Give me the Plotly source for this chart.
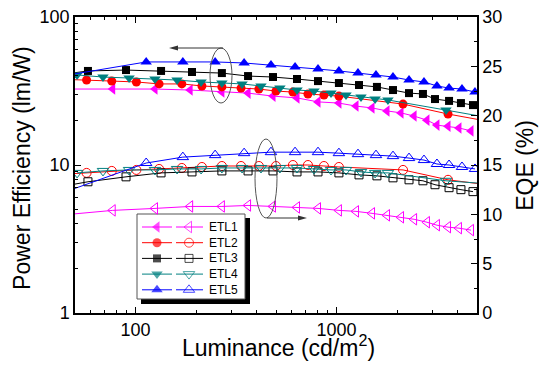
import plotly.graph_objects as go

# ---------------- data ----------------
series_names = ["ETL1", "ETL2", "ETL3", "ETL4", "ETL5"]
colors = ["#FF00FF", "#FF0000", "#000000", "#008080", "#0000FF"]
symbols = ["triangle-left", "circle", "square", "triangle-down", "triangle-up"]

lum1 = [47, 77, 125, 187, 269, 363, 483, 636, 809, 1028, 1250, 1502, 1783, 2094, 2432, 2818, 3160, 3588, 4066, 4667]
pe1 = [32.6, 32.6, 32.6, 32.1, 31.1, 30.6, 29.2, 28.4, 26.7, 26.2, 25.0, 24.3, 23.2, 22.5, 21.4, 20.1, 18.6, 18.3, 17.8, 17.0]
eqe1 = [10.0, 10.4, 10.6, 10.8, 10.8, 10.9, 10.8, 10.7, 10.6, 10.4, 10.3, 10.1, 9.9, 9.7, 9.5, 9.2, 8.9, 8.7, 8.6, 8.4]

lum2 = [47, 57.1, 76.2, 101, 131, 170, 214, 269, 335, 411, 500, 607, 721, 866, 1028, 2143, 3588, 5600]
pe2 = [37.8, 37.5, 36.9, 36.4, 35.3, 35.3, 34.2, 33.7, 33.1, 32.6, 31.6, 31.1, 30.2, 29.7, 29.2, 25.8, 22.1, 19.8]
eqe2 = [14.1, 14.2, 14.4, 14.5, 14.6, 14.7, 14.8, 14.9, 14.9, 14.9, 14.9, 15.0, 15.0, 14.9, 14.8, 14.5, 13.5, 13.0]

lum3 = [45, 58.0, 89.7, 134, 191, 269, 363, 483, 636, 809, 1028, 1294, 1589, 1910, 2295, 2692, 3090, 3630, 4160, 4775]
pe3 = [41.2, 43.2, 43.8, 43.2, 42.5, 41.8, 39.9, 39.3, 38.1, 36.9, 35.8, 34.7, 33.7, 32.1, 30.6, 30.2, 27.9, 27.1, 26.2, 25.4]
eqe3 = [12.9, 13.3, 13.8, 14.2, 14.3, 14.4, 14.4, 14.4, 14.3, 14.3, 14.2, 14.0, 13.9, 13.7, 13.5, 13.4, 13.0, 12.7, 12.5, 12.3]

lum4 = [51.2, 68.9, 92.9, 125, 161, 212, 269, 339, 421, 523, 636, 773, 939, 1115, 1324, 1556, 1803, 3506, 5600]
pe4 = [40.6, 39.3, 38.7, 38.1, 37.5, 36.4, 35.8, 35.3, 34.2, 33.1, 32.1, 31.6, 30.6, 29.7, 28.8, 27.9, 27.5, 23.5, 21.0]
eqe4 = [14.2, 14.4, 14.5, 14.5, 14.6, 14.6, 14.7, 14.7, 14.7, 14.7, 14.7, 14.6, 14.5, 14.5, 14.3, 14.2, 14.2, 13.4, 13.1]

lum5 = [45, 113, 172, 249, 347, 472, 622, 809, 1028, 1279, 1572, 1910, 2295, 2724, 3160, 3630, 4210, 4886]
pe5 = [40.3, 49.7, 49.7, 49.7, 48.9, 47.4, 45.9, 44.5, 43.2, 41.8, 40.6, 39.3, 37.5, 36.4, 34.2, 33.1, 32.6, 31.1]
eqe5 = [12.3, 15.2, 15.8, 16.0, 16.2, 16.3, 16.3, 16.3, 16.2, 16.1, 16.0, 15.9, 15.7, 15.5, 15.1, 15.0, 14.8, 14.6]

lums = [lum1, lum2, lum3, lum4, lum5]
pes = [pe1, pe2, pe3, pe4, pe5]
eqes = [eqe1, eqe2, eqe3, eqe4, eqe5]

x_ticks = [100, 1000]
x_minor = [60, 70, 80, 90, 200, 300, 400, 500, 600, 700, 800, 900, 2000, 3000, 4000]
y_ticks = [1, 10, 100]
y_minor = [2, 3, 4, 5, 6, 7, 8, 9, 20, 30, 40, 50, 60, 70, 80, 90]

FONT = "Liberation Sans, Arial, sans-serif"
fig = go.Figure()

sizes = [10, 9, 8, 10, 10]
for name, c, s, sz, L, pe, eq in zip(series_names, colors, symbols, sizes, lums, pes, eqes):
    fig.add_trace(go.Scatter(x=L, y=pe, mode="lines+markers", name=name,
                             line=dict(color=c, width=1),
                             marker=dict(symbol=s, size=sz, color=c, line=dict(width=0)),
                             showlegend=False, xaxis="x", yaxis="y"))
    fig.add_trace(go.Scatter(x=L, y=eq, mode="lines+markers", name=name,
                             line=dict(color=c, width=1),
                             marker=dict(symbol=s + "-open", size=sz, color=c, line=dict(width=1)),
                             showlegend=False, xaxis="x", yaxis="y2"))

# ---- custom legend drawn on a helper (pixel-like) axis pair ----
leg_rows = [227, 242.7, 258.4, 274.1, 289.8]
for i, (name, c, s, sz) in enumerate(zip(series_names, colors, symbols, sizes)):
    yy = leg_rows[i]
    fig.add_trace(go.Scatter(x=[142, 157, 172], y=[yy, yy, yy], mode="lines+markers",
                             line=dict(color=c, width=1),
                             marker=dict(symbol=s, size=[0, sz, 0], color=c, line=dict(width=0)),
                             showlegend=False, xaxis="x3", yaxis="y3", hoverinfo="skip"))
    fig.add_trace(go.Scatter(x=[176, 189, 203], y=[yy, yy, yy], mode="lines+markers",
                             line=dict(color=c, width=1),
                             marker=dict(symbol=s + "-open", size=[0, sz, 0], color=c, line=dict(width=1)),
                             showlegend=False, xaxis="x3", yaxis="y3", hoverinfo="skip"))
    fig.add_annotation(x=207, y=yy, xref="x3", yref="y3", text=name, showarrow=False,
                       xanchor="left", yanchor="middle", font=dict(size=12, color="black", family=FONT))

shapes = [
    dict(type="rect", x0=141, x1=250, y0=218, y1=304, xref="x3", yref="y3",
         fillcolor="black", line=dict(width=0), layer="below"),
    dict(type="rect", x0=137, x1=245, y0=214, y1=299, xref="x3", yref="y3",
         fillcolor="white", line=dict(color="#555555", width=1), layer="below"),
    dict(type="circle", x0=210, x1=232, y0=48, y1=103, xref="x3", yref="y3",
         line=dict(color="#555555", width=1)),
    dict(type="circle", x0=255, x1=277, y0=139, y1=218, xref="x3", yref="y3",
         line=dict(color="#555555", width=1)),
    # arrow shafts
    dict(type="line", x0=176, x1=223, y0=48, y1=48, xref="x3", yref="y3",
         line=dict(color="#333333", width=1)),
    dict(type="line", x0=267, x1=300, y0=218, y1=218, xref="x3", yref="y3",
         line=dict(color="#333333", width=1)),
    # arrow heads
    dict(type="path", path="M 169 48 L 178 45.5 L 178 50.5 Z", xref="x3", yref="y3",
         fillcolor="#333333", line=dict(width=0)),
    dict(type="path", path="M 307 218 L 298 215.5 L 298 220.5 Z", xref="x3", yref="y3",
         fillcolor="#333333", line=dict(width=0)),
]
fig.update_layout(shapes=shapes)

# axis titles as annotations for precise placement
title_font = dict(size=23, color="black", family=FONT)
fig.add_annotation(x=0.507, y=-0.113, xref="paper", yref="paper", showarrow=False,
                   text="Luminance (cd/m<sup>2</sup>)", font=title_font,
                   xanchor="center", yanchor="middle")
fig.add_annotation(x=-0.132, y=0.49, xref="paper", yref="paper", showarrow=False,
                   text="Power Efficiency (lm/W)", font=title_font, textangle=-90,
                   xanchor="center", yanchor="middle")
fig.add_annotation(x=1.119, y=0.50, xref="paper", yref="paper", showarrow=False,
                   text="EQE (%)", font=title_font, textangle=-90,
                   xanchor="center", yanchor="middle")

axis_common = dict(showline=True, linecolor="black", linewidth=1.5, ticks="inside",
                   tickcolor="black", tickwidth=1, showgrid=False, zeroline=False,
                   automargin=False,
                   tickfont=dict(size=18, color="black", family=FONT))

fig.update_layout(
    width=543, height=366,
    margin=dict(l=75, r=66, t=17, b=53, autoexpand=False),
    paper_bgcolor="white", plot_bgcolor="white",
    font=dict(family=FONT, color="black"),
    xaxis=dict(type="log", range=[1.69897, 3.69897], tickvals=x_ticks,
               ticktext=[str(v) for v in x_ticks], ticklen=6, mirror="ticks",
               minor=dict(tickvals=x_minor, ticks="inside", ticklen=3, tickcolor="black"),
               **axis_common),
    yaxis=dict(type="log", range=[0, 2], tickvals=y_ticks, ticktext=[str(v) for v in y_ticks],
               ticklen=6,
               minor=dict(tickvals=y_minor, ticks="inside", ticklen=3, tickcolor="black"),
               **axis_common),
    yaxis2=dict(overlaying="y", side="right", range=[0, 30], dtick=5, ticklen=6,
                minor=dict(dtick=2.5, ticks="inside", ticklen=3, tickcolor="black"),
                **axis_common),
    xaxis3=dict(overlaying="x", range=[75, 477], visible=False, fixedrange=True),
    yaxis3=dict(overlaying="y", anchor="x3", range=[313, 17], visible=False, fixedrange=True),
    showlegend=False,
)

fig.write_html("out.html", config={"displayModeBar": False},
               post_script="document.body.style.margin='0px';")
